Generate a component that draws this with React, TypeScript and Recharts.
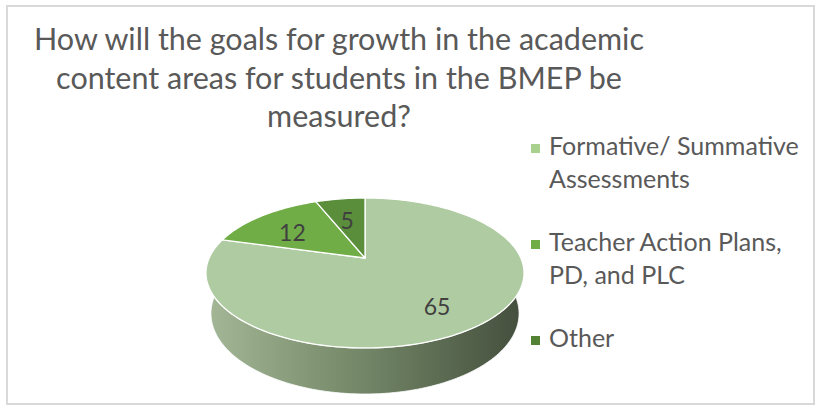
import React from 'react';
import { PieChart, Pie, Legend } from 'recharts';

const CATEGORIES = ['Formative/ Summative Assessments', 'Teacher Action Plans, PD, and PLC', 'Other'];
const VALUES = [65, 12, 5];
const TOP_COLORS = ['#afcba1', '#70ad47', '#5a8e3b'];
const LEGEND_COLORS = ['#a9d18e', '#70ad47', '#548235'];
const TITLE_LINES = [
  'How will the goals for growth in the academic',
  'content areas for students in the BMEP be',
  'measured?',
];

const data = CATEGORIES.map((name, i) => ({ name, value: VALUES[i], fill: TOP_COLORS[i], legendColor: LEGEND_COLORS[i] }));

const FONT = 'Lato, "Open Sans", sans-serif';

// tilted disc seen in perspective (units of outerRadius)
const COS_T = 0.887;
const SIN_T = 0.462;
const FOCAL = 4.346;
const DIST = 4.435;
const THICK = 0.297;
const RAD = Math.PI / 180;

function project(cx: number, cy: number, R: number, deg: number, r: number, y: number) {
  const x = r * Math.cos(deg * RAD);
  const z = r * Math.sin(deg * RAD);
  const yc = y * COS_T + z * SIN_T;
  const zc = z * COS_T - y * SIN_T;
  return [cx + (R * FOCAL * x) / (DIST + zc), cy - (R * FOCAL * yc) / (DIST + zc)];
}

function arcPoints(cx: number, cy: number, R: number, a0: number, a1: number, y: number) {
  const n = Math.max(2, Math.ceil(Math.abs(a1 - a0) / 1.5));
  const pts: number[][] = [];
  for (let i = 0; i <= n; i++) pts.push(project(cx, cy, R, a0 + ((a1 - a0) * i) / n, 1, y));
  return pts;
}

const toPath = (pts: number[][]) => pts.map((p, i) => `${i ? 'L' : 'M'}${p[0].toFixed(2)},${p[1].toFixed(2)}`).join(' ');

function Slice3D(props: any) {
  const { cx, cy, outerRadius: R, startAngle, endAngle, fill } = props;
  const lo = Math.min(startAngle, endAngle);
  const hi = Math.max(startAngle, endAngle);
  const sides: string[] = [];
  [-540, -180, 180].forEach((w0) => {
    const a = Math.max(lo, w0);
    const b = Math.min(hi, w0 + 180);
    if (b > a) {
      const top = arcPoints(cx, cy, R, a, b, 0);
      const bottom = arcPoints(cx, cy, R, b, a, -THICK);
      sides.push(toPath(top.concat(bottom)) + ' Z');
    }
  });
  const gid = `side-${Math.round(startAngle * 10)}`;
  const topPath = `M${cx},${cy} ` + toPath(arcPoints(cx, cy, R, startAngle, endAngle, 0)).replace(/^M/, 'L') + ' Z';
  return (
    <g>
      <defs>
        <linearGradient id={gid} gradientUnits="userSpaceOnUse" x1={cx - R} y1={0} x2={cx + R} y2={0}>
          <stop offset="0" stopColor="#a4b898" />
          <stop offset="0.45" stopColor="#778b6b" />
          <stop offset="1" stopColor="#434e3c" />
        </linearGradient>
      </defs>
      {sides.map((d, i) => (
        <path key={i} d={d} fill={`url(#${gid})`} stroke="#ffffff" strokeWidth={0.8} />
      ))}
      <path d={topPath} fill={fill} stroke="#ffffff" strokeWidth={1.3} strokeLinejoin="round" />
    </g>
  );
}

function renderLabel(props: any) {
  const { cx, cy, outerRadius, midAngle, value } = props;
  const [x, y] = project(cx, cy, outerRadius, midAngle, 0.68, 0);
  return (
    <text x={x} y={y + 4} fill="#404040" fontSize={23} fontFamily={FONT} textAnchor="middle" dominantBaseline="central">
      {value}
    </text>
  );
}

function LegendBox(props: any) {
  const payload = [...(props.payload || [])].sort(
    (a: any, b: any) => CATEGORIES.indexOf(a.value) - CATEGORIES.indexOf(b.value)
  );
  return (
    <div style={{ fontFamily: FONT, fontSize: 25, lineHeight: '33px', color: '#595959' }}>
      {payload.map((entry: any, i: number) => (
        <div key={i} style={{ position: 'relative', paddingLeft: 18, marginBottom: 30, width: 262 }}>
          <span
            style={{
              position: 'absolute',
              left: 0,
              top: 15,
              width: 9,
              height: 9,
              background: entry.payload?.legendColor || entry.color,
            }}
          />
          {entry.value}
        </div>
      ))}
    </div>
  );
}

export default function App() {
  return (
    <div style={{ position: 'absolute', left: 0, top: 0, width: 817, height: 407, background: '#ffffff' }}>
      <div
        style={{
          position: 'absolute',
          left: 6,
          top: 5,
          width: 809,
          height: 400,
          boxSizing: 'border-box',
          border: '2px solid #d9d9d9',
        }}
      />
      <div
        style={{
          position: 'absolute',
          left: 0,
          top: 19,
          width: 678,
          textAlign: 'center',
          fontFamily: FONT,
          fontSize: 30.5,
          lineHeight: '38.5px',
          color: '#595959',
        }}
      >
        {TITLE_LINES.map((t, i) => (
          <div key={i}>{t}</div>
        ))}
      </div>
      <div style={{ position: 'absolute', left: 0, top: 0 }}>
        <PieChart width={817} height={407}>
          <Pie
            data={data}
            dataKey="value"
            nameKey="name"
            cx={360}
            cy={253}
            outerRadius={159}
            startAngle={90}
            endAngle={-270}
            stroke="none"
            shape={Slice3D}
            activeShape={Slice3D}
            inactiveShape={Slice3D}
            label={renderLabel}
            labelLine={false}
            isAnimationActive={false}
          />
          <Legend
            layout="vertical"
            align="right"
            verticalAlign="top"
            content={<LegendBox />}
            wrapperStyle={{ position: 'absolute', left: 531, top: 129, width: 285 }}
          />
        </PieChart>
      </div>
    </div>
  );
}
